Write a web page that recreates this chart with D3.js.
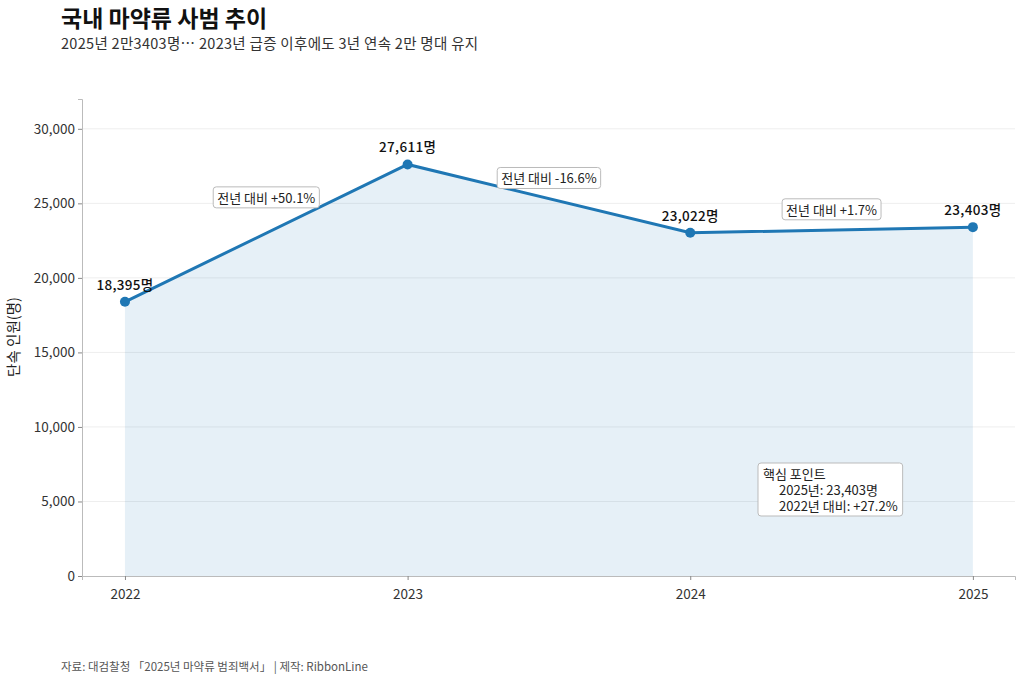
<!DOCTYPE html>
<html><head><meta charset="utf-8">
<script src="https://cdn.jsdelivr.net/npm/d3@7"></script>
<style>
body{margin:0;background:#fff;font-family:"Noto Sans CJK KR","Noto Sans",sans-serif;}
</style></head><body>
<svg id="chart" width="1024" height="683"></svg>
<script>
const years = [2022, 2023, 2024, 2025];
const counts = [18395, 27611, 23022, 23403];
const changeLabels = ["전년 대비 +50.1%", "전년 대비 -16.6%", "전년 대비 +1.7%"];
const changeLabelY = [25300, 26600, 24500];
const yTicks = [0, 5000, 10000, 15000, 20000, 25000, 30000];

const svg = d3.select("#chart");
const margin = {left: 82, right: 1015, top: 99, bottom: 576};
const x = d3.scaleLinear().domain([2021.848, 2025.149]).range([margin.left, margin.right]);
const y = d3.scaleLinear().domain([0, 32000]).range([margin.bottom, margin.top]);
const fmt = d3.format(",");

// grid
svg.append("g").selectAll("line").data(yTicks.slice(1)).enter().append("line")
  .attr("x1", margin.left).attr("x2", margin.right)
  .attr("y1", d => y(d)).attr("y2", d => y(d))
  .attr("stroke", "#eeeeee").attr("stroke-width", 1);

const data = years.map((yr, i) => ({yr, v: counts[i]}));

svg.append("path").datum(data)
  .attr("d", d3.area().x(d => x(d.yr)).y0(y(0)).y1(d => y(d.v)))
  .attr("fill", "#1f77b4").attr("fill-opacity", 0.11);

svg.append("path").datum(data)
  .attr("d", d3.line().x(d => x(d.yr)).y(d => y(d.v)))
  .attr("fill", "none").attr("stroke", "#1f77b4").attr("stroke-width", 3);

svg.append("g").selectAll("circle").data(data).enter().append("circle")
  .attr("cx", d => x(d.yr)).attr("cy", d => y(d.v)).attr("r", 5).attr("fill", "#1f77b4");

svg.append("g").selectAll("text").data(data).enter().append("text")
  .attr("x", d => x(d.yr)).attr("y", d => y(d.v) - 12)
  .attr("text-anchor", "middle").attr("font-size", 13.5).attr("font-weight", 500).attr("fill", "#111")
  .attr("letter-spacing", 0.3)
  .text(d => fmt(d.v) + "명");

// axes
const yAxis = svg.append("g").attr("transform", `translate(${margin.left},0)`)
  .call(d3.axisLeft(y).tickValues(yTicks).tickFormat(fmt).tickSize(4));
const xAxis = svg.append("g").attr("transform", `translate(0,${margin.bottom})`)
  .call(d3.axisBottom(x).tickValues(years).tickFormat(d3.format("d")).tickSize(4));
[yAxis, xAxis].forEach(a => {
  a.select(".domain").attr("stroke", "#bbb");
  a.selectAll(".tick line").attr("stroke", "#888");
  a.selectAll("text").attr("font-size", 13.5).attr("fill", "#333")
    .attr("font-family", "'Noto Sans CJK KR','Noto Sans',sans-serif");
});
xAxis.selectAll("text").attr("dy", "1.2em");

svg.append("text").attr("transform", "translate(19,337) rotate(-90)")
  .attr("text-anchor", "middle").attr("font-size", 14.5).attr("fill", "#222").text("단속 인원(명)");

// change labels
function box(g, pad) {
  const bb = g.select("text").node().getBBox();
  g.insert("rect", "text").attr("x", bb.x - pad).attr("y", bb.y - 1)
    .attr("width", bb.width + pad * 2).attr("height", bb.height + 2)
    .attr("rx", 3).attr("fill", "#fff").attr("stroke", "#bbb");
}
changeLabels.forEach((t, i) => {
  const g = svg.append("g");
  g.append("text").attr("x", x(years[i] + 0.5)).attr("y", y(changeLabelY[i]) + 4)
    .attr("text-anchor", "middle").attr("font-size", 13).attr("fill", "#222").text(t);
  box(g, 4);
});

// key point box
const kp = svg.append("g");
const kt = kp.append("text").attr("font-size", 13).attr("fill", "#222");
[["핵심 포인트", 763, 479], ["2025년: " + fmt(counts[3]) + "명", 779, 495],
 ["2022년 대비: +27.2%", 779, 511]].forEach(([t, xx, yy]) =>
  kt.append("tspan").attr("x", xx).attr("y", yy).text(t));
box(kp, 5);

// titles
svg.append("text").attr("x", 61).attr("y", 27).attr("font-size", 23).attr("font-weight", 700)
  .attr("fill", "#111").text("국내 마약류 사범 추이");
svg.append("text").attr("x", 61).attr("y", 49).attr("font-size", 14.5).attr("fill", "#333")
  .attr("letter-spacing", 0.3)
  .text("2025년 2만3403명… 2023년 급증 이후에도 3년 연속 2만 명대 유지");
svg.append("text").attr("x", 61).attr("y", 671).attr("font-size", 11.5).attr("fill", "#555")
  .text("자료: 대검찰청 「2025년 마약류 범죄백서」 | 제작: RibbonLine");
</script>
</body></html>
